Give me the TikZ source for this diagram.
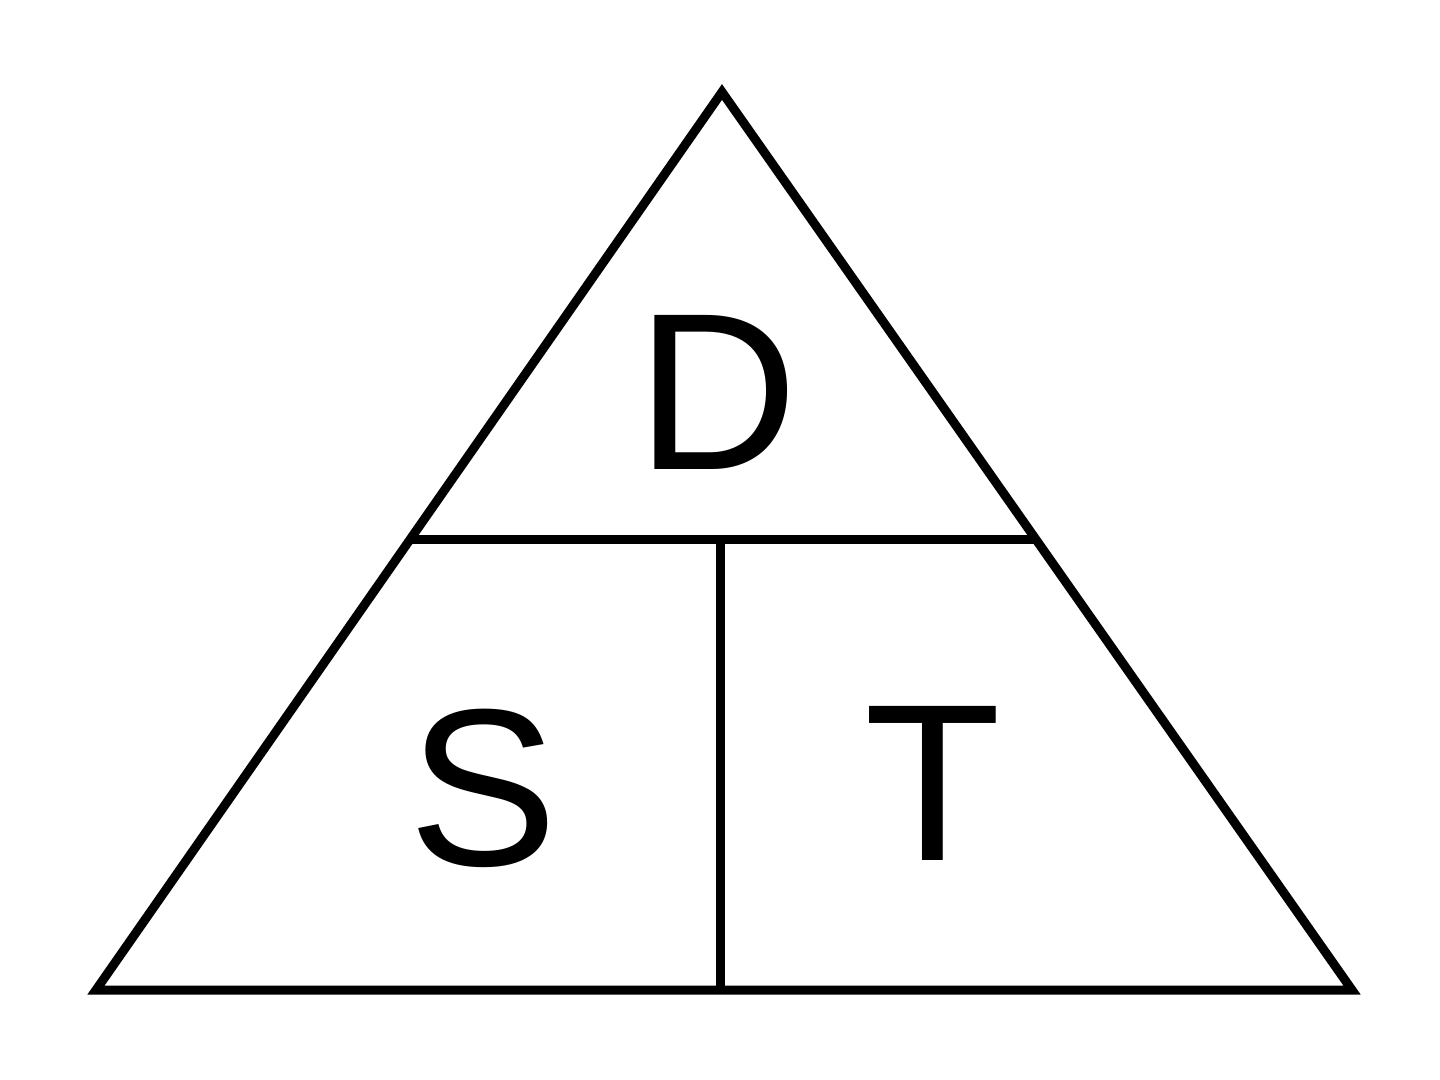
\documentclass[tikz,border=0pt]{standalone}
\usepackage{fontspec}
\setmainfont{Liberation Sans}
\begin{document}
\begin{tikzpicture}[x=0.5pt,y=-0.5pt,
  edge/.style={line width=4.5pt,line join=miter,black},
  letter/.style={font=\fontsize{112}{112}\selectfont,inner sep=0pt,anchor=base}]
\useasboundingbox[fill=white] (0,0) rectangle (1440,1080);
\coordinate (A) at (722,92);
\coordinate (BL) at (96,990);
\coordinate (BR) at (1352,990);
\coordinate (ML) at (409,539);
\coordinate (MR) at (1035,539);
\coordinate (MM) at (720,539);
\coordinate (BM) at (720,990);
\draw[edge] (A) -- (BR) -- (BL) -- cycle;
\draw[edge] (ML) -- (MR);
\draw[edge] (MM) -- (BM);
\node[letter] (D) at (717,470) {D};
\node[letter] (S) at (483,865) {S};
\node[letter] (T) at (933,860) {T};
\end{tikzpicture}
\end{document}
